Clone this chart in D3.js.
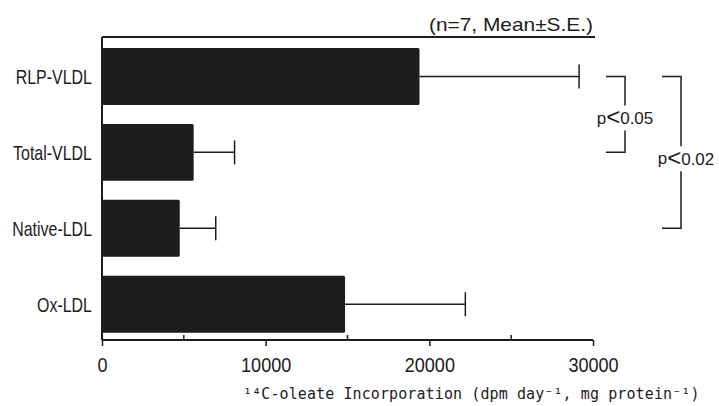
<!DOCTYPE html>
<html>
<head>
<meta charset="utf-8">
<script src="https://cdn.jsdelivr.net/npm/d3@7"></script>
<style>
  body { margin: 0; background: #fff; }
  svg { display: block; }
</style>
</head>
<body>
<div id="chart"></div>
<script>
const categories = ["RLP-VLDL", "Total-VLDL", "Native-LDL", "Ox-LDL"];
const means = [19400, 5600, 4750, 14850];
const errors = [9750, 2500, 2200, 7350];
const majorTicks = [0, 10000, 20000, 30000];
const minorTicks = [5000, 15000, 25000];
const bracketPairs = [["RLP-VLDL", "Total-VLDL"], ["RLP-VLDL", "Native-LDL"]];
const bracketLabels = ["p<0.05", "p<0.02"];
const noteText = "(n=7, Mean±S.E.)";
const xTitle = "¹⁴C-oleate Incorporation (dpm day⁻¹, mg protein⁻¹)";

const data = categories.map((c, i) => ({ name: c, mean: means[i], se: errors[i] }));

const margin = { top: 37, right: 126, bottom: 66, left: 102 },
    width = 719 - margin.left - margin.right,
    height = 406 - margin.top - margin.bottom;

const ink = "#1e1b1c";

const svgContainer = d3.select("#chart").append("svg")
    .attr("width", width + margin.left + margin.right)
    .attr("height", height + margin.top + margin.bottom);

const svg = svgContainer.append("g")
    .attr("transform", `translate(${margin.left},${margin.top})`);

// squeeze text horizontally to mimic the narrow typeface
const squeeze = (sel, k) => sel.each(function() {
    const w = this.getComputedTextLength();
    d3.select(this).attr("textLength", w * k).attr("lengthAdjust", "spacingAndGlyphs");
});

const x = d3.scaleLinear()
    .domain([0, 30000])
    .range([0, width]);

const y = d3.scaleBand()
    .domain(categories)
    .range([0, height])
    .paddingInner(0.25)
    .paddingOuter(0.12)
    .align(0.6);

svg.selectAll(".bar")
    .data(data)
    .enter().append("rect")
    .attr("class", "bar")
    .attr("x", 0)
    .attr("y", d => y(d.name))
    .attr("width", d => x(d.mean))
    .attr("height", y.bandwidth())
    .attr("rx", 1.5)
    .attr("fill", ink);

const errG = svg.selectAll(".err")
    .data(data)
    .enter().append("g")
    .attr("class", "err")
    .attr("stroke", ink)
    .attr("stroke-width", 1.5);

errG.append("line")
    .attr("x1", d => x(d.mean))
    .attr("x2", d => x(d.mean + d.se))
    .attr("y1", d => y(d.name) + y.bandwidth() / 2)
    .attr("y2", d => y(d.name) + y.bandwidth() / 2);

errG.append("line")
    .attr("x1", d => x(d.mean + d.se))
    .attr("x2", d => x(d.mean + d.se))
    .attr("y1", d => y(d.name) + y.bandwidth() / 2 - 12)
    .attr("y2", d => y(d.name) + y.bandwidth() / 2 + 12);

// frame: top rule, left axis
svg.append("line")
    .attr("x1", 0).attr("x2", width + 2)
    .attr("y1", 0).attr("y2", 0)
    .attr("stroke", ink).attr("stroke-width", 2);

svg.append("line")
    .attr("x1", 0).attr("x2", 0)
    .attr("y1", 0).attr("y2", height)
    .attr("stroke", ink).attr("stroke-width", 2);

// bottom axis
const xAxisGroup = svg.append("g")
    .attr("transform", `translate(0,${height})`)
    .call(d3.axisBottom(x).tickValues(majorTicks).tickSize(6).tickPadding(11).tickFormat(d3.format("d")));

xAxisGroup.select(".domain").attr("stroke", ink).attr("stroke-width", 2).attr("d", `M0,0H${width}`);
xAxisGroup.selectAll(".tick line").attr("stroke", ink).attr("stroke-width", 1.5);
xAxisGroup.selectAll(".tick text")
    .attr("fill", ink)
    .style("font-family", "'Liberation Sans', Arial, sans-serif")
    .style("font-size", "21px")
    .call(squeeze, 0.86);

svg.append("g")
    .attr("transform", `translate(0,${height})`)
    .selectAll("line")
    .data(minorTicks)
    .enter().append("line")
    .attr("x1", d => x(d)).attr("x2", d => x(d))
    .attr("y1", 0).attr("y2", -5)
    .attr("stroke", ink).attr("stroke-width", 1.5);

// category labels
svg.selectAll(".cat")
    .data(categories)
    .enter().append("text")
    .attr("class", "cat")
    .attr("x", -10)
    .attr("y", d => y(d) + y.bandwidth() / 2)
    .attr("dy", "0.36em")
    .attr("text-anchor", "end")
    .attr("fill", ink)
    .style("font-family", "'Liberation Sans', Arial, sans-serif")
    .style("font-size", "21px")
    .text(d => d)
    .call(squeeze, 0.76);

// axis title
svg.append("text")
    .attr("x", 141)
    .attr("y", height + 59)
    .attr("fill", ink)
    .style("font-family", "'DejaVu Sans Mono', monospace")
    .style("font-size", "15px")
    .style("letter-spacing", "0.1px")
    .text(xTitle);

// note above the frame
svg.append("text")
    .attr("x", width)
    .attr("y", -6)
    .attr("text-anchor", "end")
    .attr("fill", ink)
    .style("font-family", "'Liberation Sans', Arial, sans-serif")
    .style("font-size", "19px")
    .text(noteText)
    .attr("textLength", 164)
    .attr("lengthAdjust", "spacingAndGlyphs");

// significance brackets
const bracketX = [width + 32, width + 88];
const labelDx = [0, 5];
const labelDy = [3, 6];

bracketPairs.forEach((pair, i) => {
    const y1 = y(pair[0]) + y.bandwidth() / 2;
    const y2 = y(pair[1]) + y.bandwidth() / 2;
    const bx = bracketX[i];
    const mid = (y1 + y2) / 2 + labelDy[i];
    const g = svg.append("g").attr("stroke", ink).attr("stroke-width", 1.5).attr("fill", "none");

    g.append("path").attr("d", `M${bx - 19},${y1}H${bx}V${mid - 12}`);
    g.append("path").attr("d", `M${bx},${mid + 13}V${y2}H${bx - 19}`);

    const parts = bracketLabels[i].split("<");
    const t = svg.append("text")
        .attr("x", bx + labelDx[i])
        .attr("y", mid)
        .attr("dy", "0.36em")
        .attr("text-anchor", "middle")
        .attr("fill", ink)
        .style("font-family", "'Liberation Sans', Arial, sans-serif")
        .style("font-size", "17px");
    t.append("tspan").text(parts[0]);
    t.append("tspan").style("font-size", "24px").style("font-weight", "300").attr("dy", "0.06em").text("<");
    t.append("tspan").attr("dy", "-0.08em").text(parts[1]);
});
</script>
</body>
</html>
